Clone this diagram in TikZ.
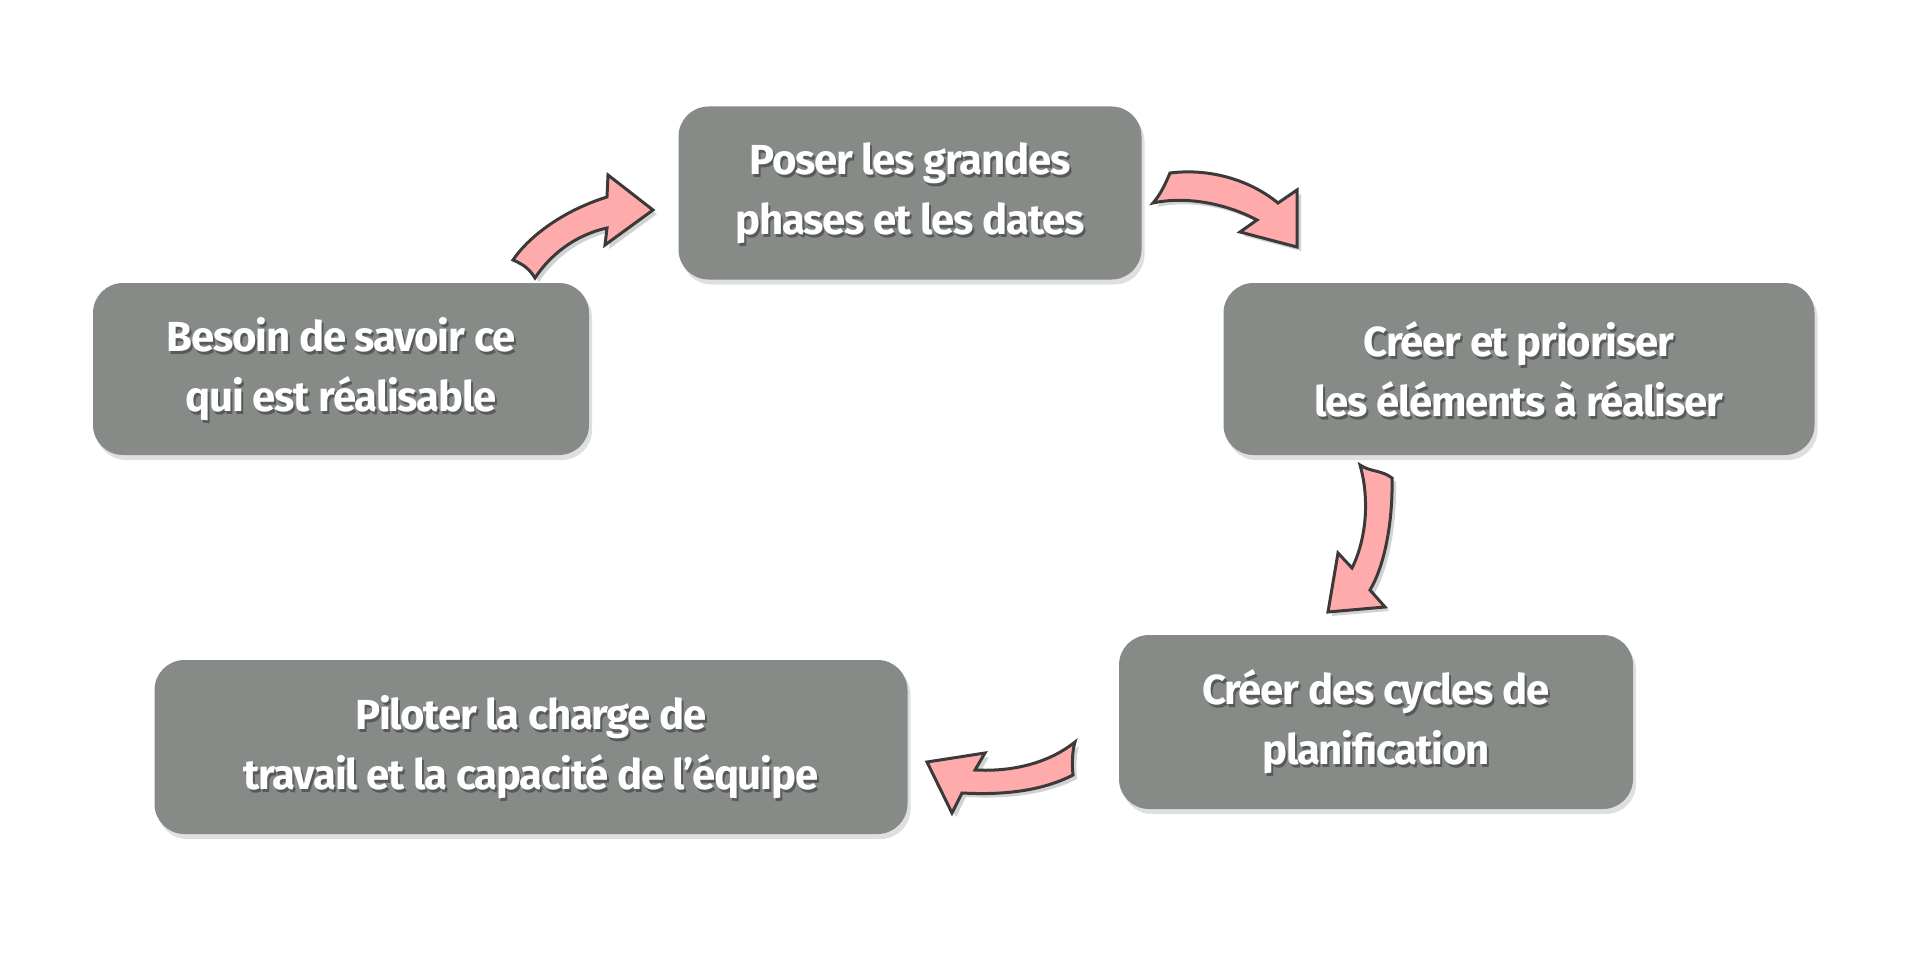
\documentclass[tikz,border=0pt]{standalone}
\usepackage{fontspec}
\setmainfont{Fira Sans}[LetterSpace=-3]
\usetikzlibrary{shadows}
\definecolor{boxg}{HTML}{878B87}
\definecolor{arrp}{HTML}{FFABAB}
\definecolor{arrd}{HTML}{3A3A3A}
\tikzset{
  box/.style={fill=boxg, rounded corners=30pt, inner sep=0pt, draw=none,
    drop shadow={opacity=0.25, shadow xshift=3pt, shadow yshift=-5pt}},
  txt/.style={text=white, font=\fontsize{42}{60}\selectfont\bfseries, align=center, inner sep=0pt},
  tsh/.style={text=black, opacity=0.35, font=\fontsize{42}{60}\selectfont\bfseries, align=center, inner sep=0pt},
  arr/.style={fill=arrp, draw=arrd, line width=3pt, line join=miter,
    drop shadow={opacity=0.35, shadow xshift=4pt, shadow yshift=-4pt}},
}
\newcommand{\mybox}[6]{%
  \node[box, minimum width=#3pt, minimum height=#4pt] (#1) at #2 {};
  \node[tsh] at ($#2+(2,3)$) {#6};
  \node[txt] (#5) at #2 {#6};}
\usetikzlibrary{calc}
\begin{document}
\begin{tikzpicture}[x=1pt,y=-1pt]
\useasboundingbox (0,0) rectangle (1920,963);
\fill[white] (0,0) rectangle (1920,963);
\mybox{b1}{(910,193)}{463}{173}{t1}{Poser les grandes\\phases et les dates}
\mybox{b2}{(1519,369)}{591}{172}{t2}{Créer et prioriser\\les éléments à réaliser}
\mybox{b3}{(1376,722)}{514}{174}{t3}{Créer des cycles de\\planification}
\mybox{b4}{(531,747)}{753}{174}{t4}{Piloter la charge de\\travail et la capacité de l’équipe}
\mybox{b5}{(341,369)}{496}{172}{t5}{Besoin de savoir ce\\qui est réalisable}
% arrow 1
\draw[arr] (513,260) .. controls (530,235) and (565,210) .. (607,197)
  -- (608,175) -- (653,210) -- (605,245) -- (607,228)
  .. controls (575,235) and (550,255) .. (535,278)
  .. controls (530,270) and (525,265) .. cycle;
% arrow 2
\draw[arr] (1170,173) .. controls (1210,168) and (1250,180) .. (1278,203)
  -- (1297,190) -- (1297,247) -- (1240,232) -- (1257,220)
  .. controls (1225,203) and (1185,196) .. (1153,203)
  .. controls (1160,195) and (1165,185) .. cycle;
% arrow 3
\draw[arr] (1360,465) .. controls (1370,472) and (1382,470) .. (1392,478)
  .. controls (1393,520) and (1385,565) .. (1370,590)
  -- (1385,607) -- (1328,612) -- (1338,553) -- (1352,568)
  .. controls (1366,540) and (1370,500) .. cycle;
% arrow 4
\draw[arr] (1075,742) .. controls (1072,752) and (1072,765) .. (1073,775)
  .. controls (1040,792) and (1000,795) .. (962,793)
  -- (952,813) -- (927,762) -- (985,753) -- (975,770)
  .. controls (1015,772) and (1050,762) .. cycle;
\end{tikzpicture}
\end{document}
